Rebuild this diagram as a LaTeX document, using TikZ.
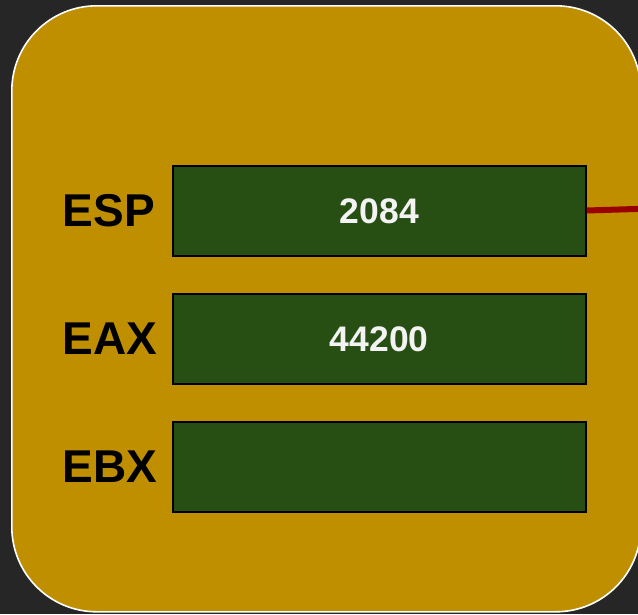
\documentclass[tikz,border=0pt]{standalone}
\usepackage{fontspec}
\setmainfont{Liberation Sans}
\definecolor{bgdark}{HTML}{262626}
\definecolor{gold}{HTML}{BF8F00}
\definecolor{regfill}{HTML}{274E13}
\definecolor{wire}{HTML}{990000}
\definecolor{numtext}{HTML}{F3F3F3}
\tikzset{
  regbox/.style={draw=black, line width=1.6pt, fill=regfill, minimum width=413pt, minimum height=90pt, inner sep=0pt, anchor=north west},
  reglabel/.style={font=\bfseries\fontsize{46}{46}\selectfont, text=black, inner sep=0pt},
  regvalue/.style={font=\bfseries\fontsize{35.5}{35.5}\selectfont, text=numtext, inner sep=0pt},
}
\begin{document}
\begin{tikzpicture}[x=1pt, y=-1pt]
\fill[bgdark] (0,0) rectangle (638,614);
\useasboundingbox (0,0) rectangle (638,614);
\clip (0,0) rectangle (638,614);
\node[draw=white, line width=1.6pt, fill=gold, rounded corners=85pt, minimum width=629pt, minimum height=606pt, inner sep=0pt, anchor=north west] (cpu) at (11,5) {};
\node[regbox] (esp) at (172,165) {};
\node[regbox] (eax) at (172,293) {};
\node[regbox] (ebx) at (172,421) {};
\node[regvalue] (espv) at (esp.center) {2084};
\node[regvalue] (eaxv) at (eax.center) {44200};
\node[reglabel] (espl) at (109,211) {ESP};
\node[reglabel] (eaxl) at (110,339) {EAX};
\node[reglabel] (ebxl) at (110,467) {EBX};
\coordinate (out) at (642,208.8);
\draw[wire, line width=6pt] ([yshift=0.3pt]esp.east) -- (out);
\end{tikzpicture}
\end{document}
